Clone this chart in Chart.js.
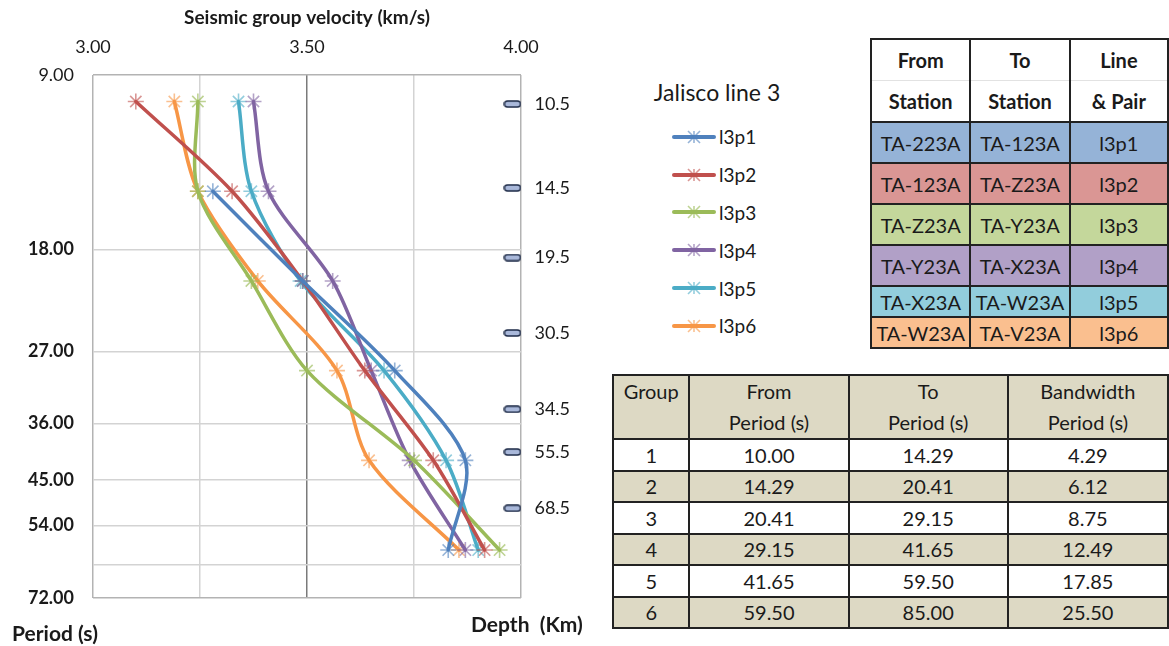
<!DOCTYPE html>
<html>
<head>
<meta charset="utf-8">
<title>Jalisco line 3 - group velocity</title>
<script src="https://cdn.jsdelivr.net/npm/chart.js@4.4.1/dist/chart.umd.min.js"></script>
<style>
  html, body { margin: 0; padding: 0; background: #fff; }
  body {
    width: 1169px; height: 646px; position: relative; overflow: hidden;
    font-family: Lato, "Open Sans", sans-serif; color: #1a1a1a;
  }
  #chart-box { position: absolute; left: 0; top: 0; width: 600px; height: 646px; }
  .axis-note { position: absolute; font-weight: bold; font-size: 21px; white-space: pre; }
  #period-title { left: 12px; top: 620px; }
  #depth-title { left: 471px; top: 611px; }

  /* legend */
  #legend { position: absolute; left: 652px; top: 77px; width: 130px; }
  #legend .title { font-size: 23px; text-align: center; line-height: 30px; margin-bottom: 11px; }
  #legend .item { display: flex; align-items: center; height: 37.8px; margin-left: 20px; font-size: 19px; }
  #legend svg { margin-right: 3px; }

  /* station pairs */
  #pairs {
    position: absolute; left: 870px; top: 38px; border-collapse: collapse;
    font-size: 20px; border: 2px solid #222;
  }
  #pairs th, #pairs td {
    width: 99px; padding: 0; text-align: center;
    border-left: 2px solid #222; border-right: 2px solid #222;
  }
  #pairs th { font-weight: bold; height: 40px; background: #fff; }
  #pairs tr.h1 th { border-bottom: 1px solid #e2e2e2; }
  #pairs tr.h2 th { border-bottom: 2px solid #222; }
  #pairs td { border-bottom: 2px solid #222; height: 39px; }
  #pairs tr.short td { height: 29px; }

  /* period groups */
  #groups {
    position: absolute; left: 612px; top: 374px; border-collapse: collapse;
    font-size: 20px; border: 2px solid #222;
  }
  #groups th, #groups td { border: 2px solid #222; padding: 0; text-align: center; font-weight: normal; }
  #groups th { background: #ddd9c4; height: 61px; vertical-align: top; line-height: 31px; }
  #groups td { height: 29.5px; }
  #groups tr.tan td { background: #ddd9c4; }
  #groups .c0 { width: 75px; }
  #groups .c1, #groups .c2, #groups .c3 { width: 160px; }
</style>
</head>
<body>
<div id="chart-box"><canvas id="velocity-chart" width="600" height="646"></canvas></div>
<div class="axis-note" id="period-title">Period (s)</div>
<div class="axis-note" id="depth-title">Depth  (Km)</div>
<div id="legend"><div class="title">Jalisco line 3</div><div id="legend-items"></div></div>
<table id="pairs"></table>
<table id="groups"></table>

<script>
// ---- data ----
const periods = [10.00, 14.29, 20.41, 29.15, 41.65, 59.50];   // s
const seriesNames = ['l3p1', 'l3p2', 'l3p3', 'l3p4', 'l3p5', 'l3p6'];
// group velocity (km/s) per period, null = no measurement
const l3p1 = [null, 3.28, 3.49, 3.705, 3.87, 3.83];
const l3p2 = [3.10, 3.325, 3.49, 3.635, 3.795, 3.915];
const l3p3 = [3.245, 3.245, 3.37, 3.50, 3.75, 3.95];
const l3p4 = [3.375, 3.41, 3.56, 3.65, 3.74, 3.87];
const l3p5 = [3.34, 3.37, 3.485, 3.68, 3.825, 3.90];
const l3p6 = [3.19, 3.245, 3.385, 3.57, 3.645, 3.855];
const seriesValues = [l3p1, l3p2, l3p3, l3p4, l3p5, l3p6];

const velocityGrid   = [3.00, 3.25, 3.50, 3.75, 4.00];
const velocityLabels = [3.00, 3.50, 4.00];
const periodTicks    = [9, 18, 27, 36, 45, 54, 63, 72];
const periodLabels   = [9, 18, 27, 36, 45, 54, 72];

// depth marks on the right edge
const depthKm       = [10.5, 14.5, 19.5, 30.5, 34.5, 55.5, 68.5];
const depthAtPeriod = [10.1, 14.1, 18.6, 25.1, 34.0, 40.3, 50.4];
const depthVelocity = 3.98;

// tables
const fromStation = ['TA-223A', 'TA-123A', 'TA-Z23A', 'TA-Y23A', 'TA-X23A', 'TA-W23A'];
const toStation   = ['TA-123A', 'TA-Z23A', 'TA-Y23A', 'TA-X23A', 'TA-W23A', 'TA-V23A'];
const groupIds    = [1, 2, 3, 4, 5, 6];
const fromPeriod  = [10.00, 14.29, 20.41, 29.15, 41.65, 59.50];
const toPeriod    = [14.29, 20.41, 29.15, 41.65, 59.50, 85.00];
const bandwidth   = [4.29, 6.12, 8.75, 12.49, 17.85, 25.50];

// colours
const lineColors   = ['#4F81BD', '#C0504D', '#9BBB59', '#8064A2', '#4BACC6', '#F79646'];
const markerColors = ['rgba(79,129,189,0.6)', 'rgba(192,80,77,0.6)', 'rgba(155,187,89,0.65)',
                      'rgba(128,100,162,0.6)', 'rgba(75,172,198,0.6)', 'rgba(247,150,70,0.6)'];
const rowColors    = ['#95B3D7', '#DA9694', '#C4D79B', '#B1A0C7', '#92CDDC', '#FABF8F'];

const FONT = 'Lato, "Open Sans", sans-serif';

// small rounded bar used for the depth marks
function depthTick() {
    const c = document.createElement('canvas');
    c.width = 18; c.height = 8;
    const g = c.getContext('2d');
    g.fillStyle = '#a9b8da';
    g.strokeStyle = '#1d2a47';
    g.lineWidth = 1.4;
    g.beginPath();
    if (g.roundRect) g.roundRect(1, 1, 16, 6, 3); else g.rect(1, 1, 16, 6);
    g.fill();
    g.stroke();
    return c;
}

const datasets = seriesValues.map((vals, i) => ({
    label: seriesNames[i],
    data: periods.map((p, j) => ({ x: vals[j], y: p })).filter(d => d.x !== null),
    showLine: true,
    borderColor: lineColors[i],
    backgroundColor: lineColors[i],
    borderWidth: 3.5,
    borderCapStyle: 'round',
    borderJoinStyle: 'round',
    tension: 0.3,
    pointStyle: 'star',
    pointRadius: 8,
    pointBorderWidth: 1.6,
    pointBorderColor: markerColors[i],
    clip: false,
}));

datasets.push({
    label: 'depth',
    data: depthAtPeriod.map(p => ({ x: depthVelocity, y: p })),
    showLine: false,
    pointStyle: depthTick(),
    pointRadius: 9,
    clip: false,
});

// depth values written next to the marks
const depthLabels = {
    id: 'depthLabels',
    afterDatasetsDraw(chart) {
        const meta = chart.getDatasetMeta(seriesNames.length);
        const ctx = chart.ctx;
        ctx.save();
        ctx.font = '18px ' + FONT;
        ctx.fillStyle = '#1a1a1a';
        ctx.textAlign = 'left';
        ctx.textBaseline = 'middle';
        meta.data.forEach((pt, i) => ctx.fillText(depthKm[i].toFixed(1), pt.x + 22, pt.y));
        ctx.restore();
    }
};

const chart = new Chart(document.getElementById('velocity-chart'), {
    type: 'scatter',
    data: { datasets },
    plugins: [depthLabels],
    options: {
        responsive: false,
        animation: false,
        devicePixelRatio: 1,
        layout: { padding: { top: 0, left: 0, right: 79, bottom: 48 } },
        plugins: { legend: { display: false }, tooltip: { enabled: false } },
        scales: {
            x: {
                type: 'linear', position: 'top', min: 3, max: 4,
                afterBuildTicks: s => { s.ticks = velocityGrid.map(v => ({ value: v })); },
                afterFit: s => { s.height = 75; },
                ticks: {
                    autoSkip: false, padding: 17, color: '#1a1a1a',
                    font: { size: 18, family: FONT },
                    callback: v => velocityLabels.includes(v) ? v.toFixed(2) : '',
                },
                grid: {
                    drawTicks: false, lineWidth: 1.5,
                    color: c => c.tick.value === 3.5 ? '#7a7a7a' : (c.tick.value === 3 || c.tick.value === 4 ? '#b3b3b3' : '#d3d3d3'),
                },
                border: { display: false },
                title: {
                    display: true, text: 'Seismic group velocity (km/s)', color: '#1a1a1a',
                    font: { size: 19, weight: 'bold', family: FONT }, padding: { top: 6, bottom: 0 },
                },
            },
            y: {
                type: 'logarithmic', reverse: true, min: 9, max: 72,
                afterBuildTicks: s => { s.ticks = periodTicks.map(v => ({ value: v })); },
                afterFit: s => { s.width = 93; },
                ticks: {
                    autoSkip: false, padding: 19, color: '#1a1a1a',
                    font: c => ({ size: 18, family: FONT, weight: c.tick && c.tick.value === 9 ? 'normal' : 'bold' }),
                    callback: v => periodLabels.includes(v) ? v.toFixed(2) : '',
                },
                grid: {
                    drawTicks: false, lineWidth: 1.5,
                    color: c => (c.tick.value === 9 || c.tick.value === 72) ? '#b3b3b3' : '#d3d3d3',
                },
                border: { display: false },
            },
        },
    },
});

// legend built from the chart's own datasets
const legendBox = document.getElementById('legend-items');
chart.data.datasets.slice(0, seriesNames.length).forEach((ds, i) => {
    const item = document.createElement('div');
    item.className = 'item';
    const r = 6;
    const star = [[-r, -r, r, r], [-r, r, r, -r], [0, -r, 0, r]]
        .map(([a, b, c, d]) => `<line x1="${22 + a}" y1="${9 + b}" x2="${22 + c}" y2="${9 + d}" stroke="${markerColors[i]}" stroke-width="1.6"/>`)
        .join('');
    item.innerHTML = `<svg width="44" height="18"><line x1="2" y1="9" x2="42" y2="9" stroke="${ds.borderColor}" stroke-width="4" stroke-linecap="round"/>${star}</svg><span>${ds.label}</span>`;
    legendBox.appendChild(item);
});

// station pair table
const pairs = document.getElementById('pairs');
pairs.innerHTML =
    '<tr class="h1"><th>From</th><th>To</th><th>Line</th></tr>' +
    '<tr class="h2"><th>Station</th><th>Station</th><th>&amp; Pair</th></tr>' +
    seriesNames.map((name, i) =>
        `<tr class="${i >= 4 ? 'short' : ''}" style="background:${rowColors[i]}">` +
        `<td>${fromStation[i]}</td><td>${toStation[i]}</td><td>${name}</td></tr>`).join('');

// period group table
const groups = document.getElementById('groups');
groups.innerHTML =
    '<tr><th class="c0">Group</th><th class="c1">From<br>Period (s)</th>' +
    '<th class="c2">To<br>Period (s)</th><th class="c3">Bandwidth<br>Period (s)</th></tr>' +
    groupIds.map((g, i) =>
        `<tr class="${i % 2 ? 'tan' : ''}"><td>${g}</td><td>${fromPeriod[i].toFixed(2)}</td>` +
        `<td>${toPeriod[i].toFixed(2)}</td><td>${bandwidth[i].toFixed(2)}</td></tr>`).join('');
</script>
</body>
</html>
